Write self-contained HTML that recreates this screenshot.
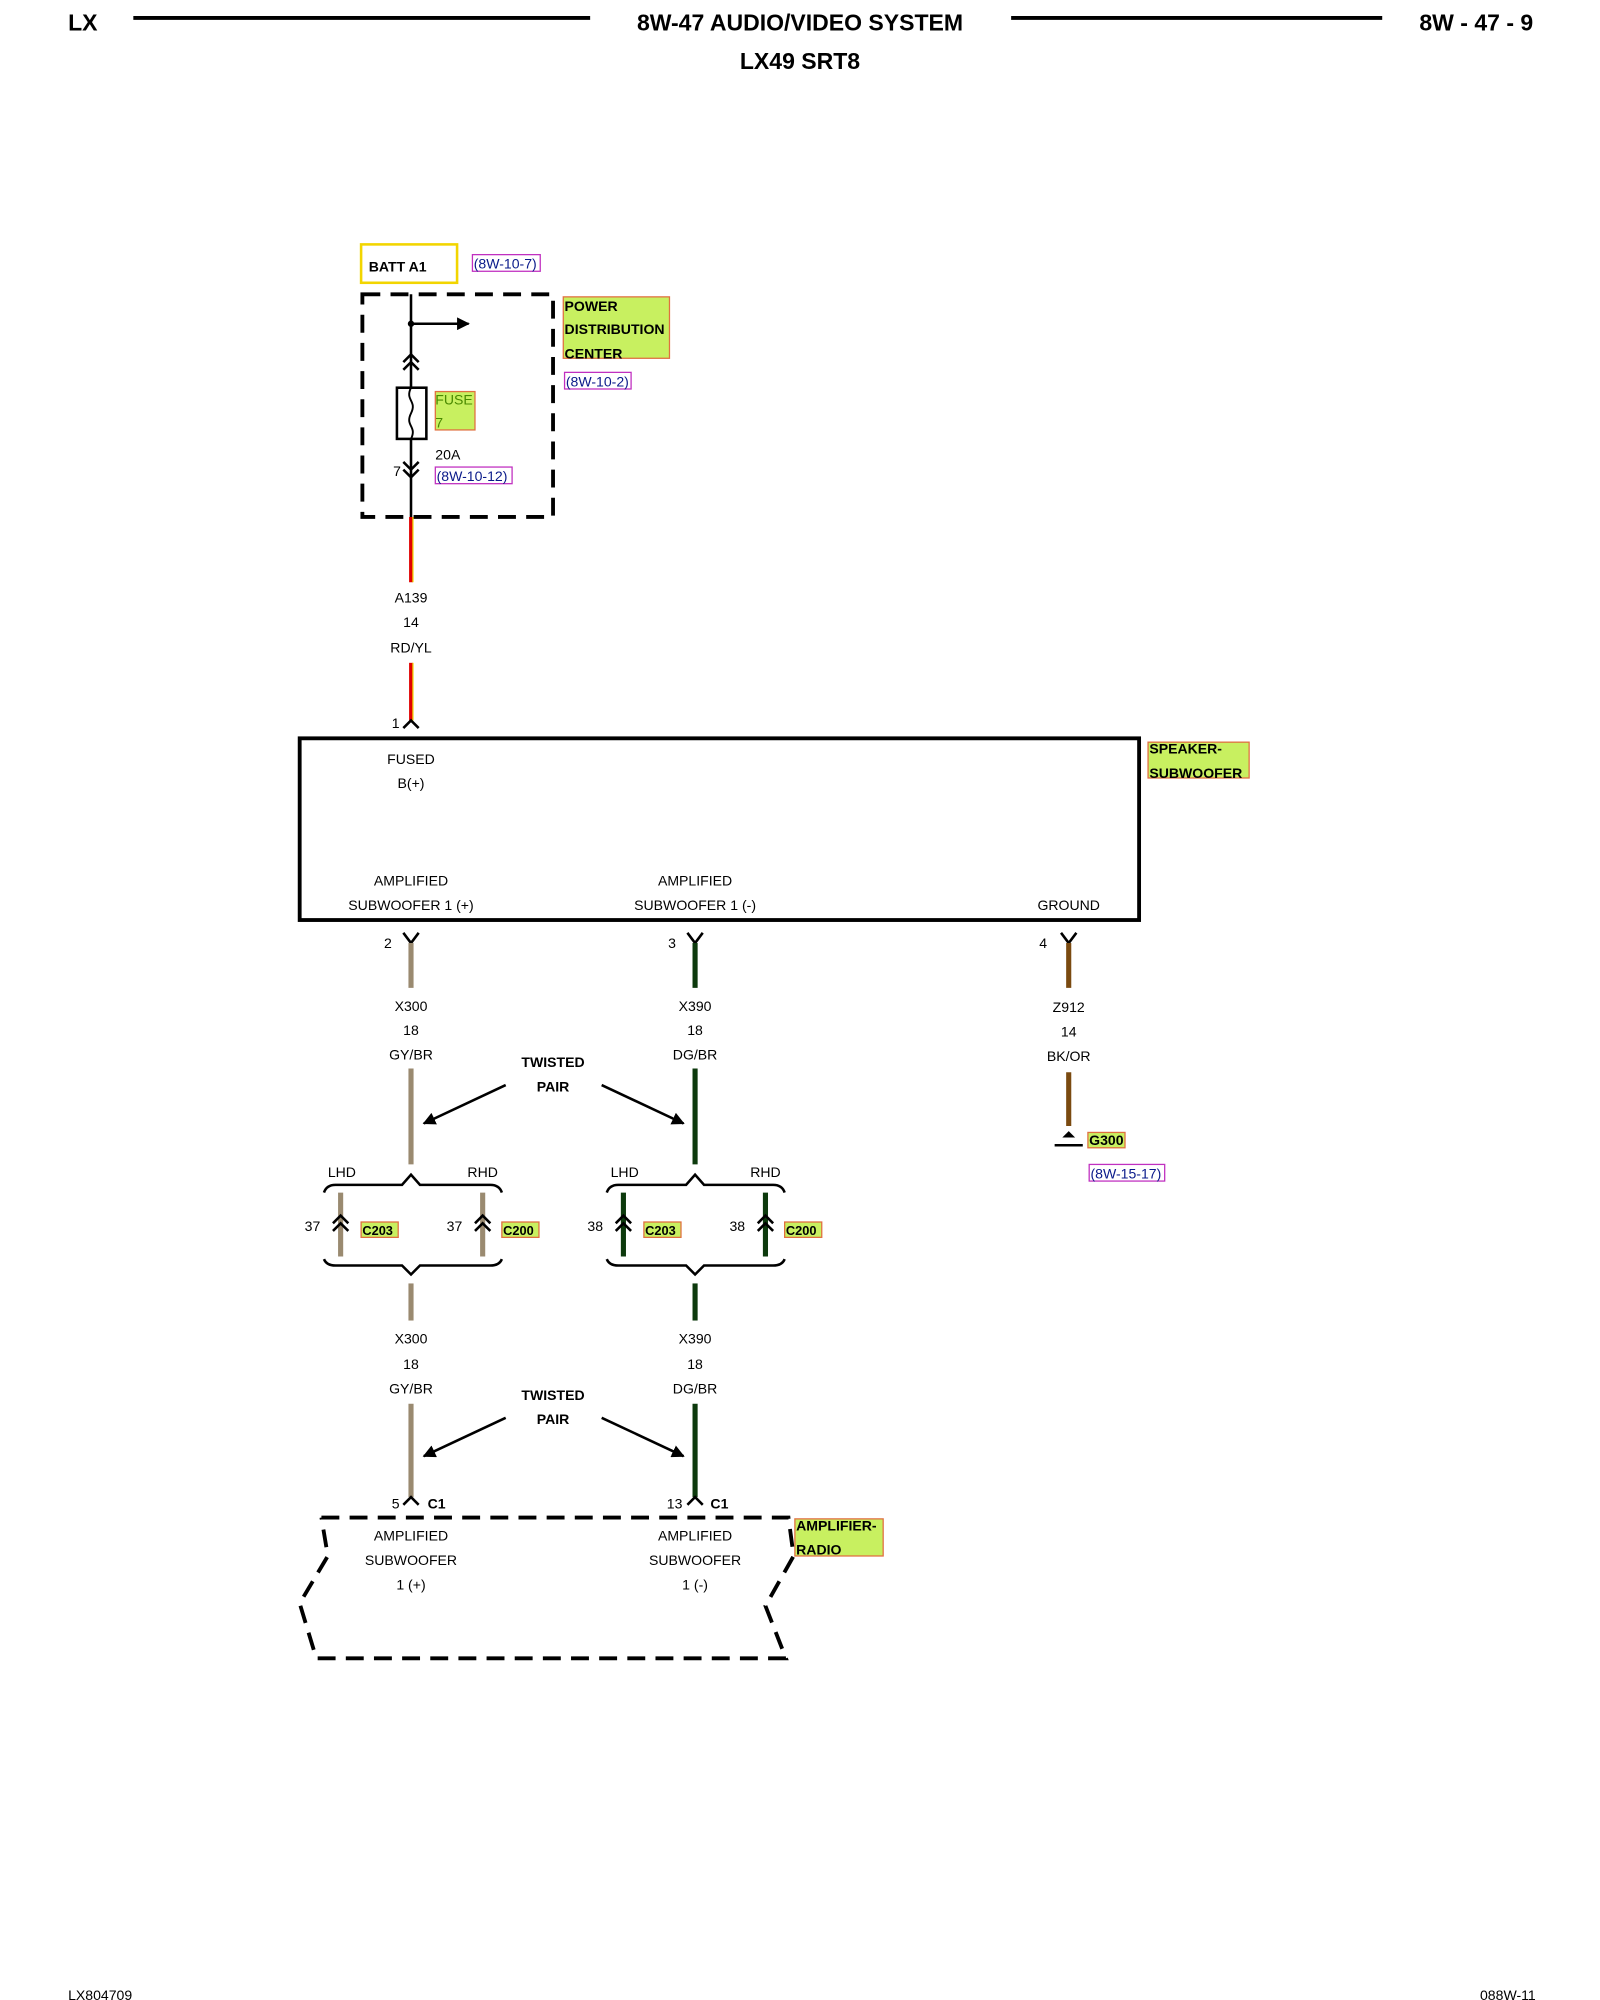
<!DOCTYPE html>
<html><head><style>
html,body{margin:0;padding:0;background:#fff;}
svg{display:block;}
text{font-family:"Liberation Sans",Arial,sans-serif;}
</style></head><body>
<svg width="1600" height="2000" viewBox="0 0 1250 1563" xmlns="http://www.w3.org/2000/svg">
<defs>
<marker id="ah" markerWidth="10" markerHeight="10" refX="9" refY="5" orient="auto" markerUnits="userSpaceOnUse" viewBox="0 0 10 10"><path d="M0,0 L10,5 L0,10 z" fill="#000"/></marker>
</defs>
<!-- header -->
<g font-weight="bold" font-size="18">
<text x="53" y="24">LX</text>
<text x="625" y="24" text-anchor="middle">8W-47 AUDIO/VIDEO SYSTEM</text>
<text x="1198" y="24" text-anchor="end">8W - 47 - 9</text>
<text x="625" y="54" text-anchor="middle">LX49 SRT8</text>
</g>
<line x1="104" y1="14" x2="461" y2="14" stroke="#000" stroke-width="3"/>
<line x1="790" y1="14" x2="1080" y2="14" stroke="#000" stroke-width="3"/>
<text x="53" y="1563" font-size="11">LX804709</text>
<text x="1200" y="1563" font-size="11" text-anchor="end">088W-11</text>

<!-- BATT -->
<rect x="282" y="191" width="75" height="30" fill="none" stroke="#f2d500" stroke-width="2"/>
<text x="288" y="212" font-size="11" font-weight="bold">BATT A1</text>
<g font-size="11" fill="#0a1a8a">
<rect x="369" y="199" width="53" height="13" fill="none" stroke="#c030c0"/>
<text x="370" y="210">(8W-10-7)</text>
<rect x="441" y="291" width="52" height="13" fill="none" stroke="#c030c0"/>
<text x="442" y="302">(8W-10-2)</text>
<rect x="340" y="365" width="60" height="13" fill="none" stroke="#c030c0"/>
<text x="341" y="376">(8W-10-12)</text>
<rect x="851" y="910" width="59" height="13" fill="none" stroke="#c030c0"/>
<text x="852" y="921">(8W-15-17)</text>
</g>
<rect x="283" y="230" width="149" height="174" fill="none" stroke="#000" stroke-width="3" stroke-dasharray="14 8"/>
<line x1="321" y1="230" x2="321" y2="404" stroke="#000" stroke-width="2"/>
<circle cx="321" cy="253" r="2.5"/>
<line x1="321" y1="253" x2="366" y2="253" stroke="#000" stroke-width="2" marker-end="url(#ah)"/>
<path d="M315,283 L321,277 L327,283 M315,289 L321,283 L327,289" fill="none" stroke="#000" stroke-width="2"/>
<rect x="310" y="303" width="23" height="40" fill="#fff" stroke="#000" stroke-width="2"/>
<path d="M321,303 C316,313 326,313 321,323 C316,333 326,333 321,343" fill="none" stroke="#000" stroke-width="1.5"/>
<path d="M315,361 L321,367 L327,361 M315,367 L321,373 L327,367" fill="none" stroke="#000" stroke-width="2"/>
<rect x="340" y="306" width="31" height="30" fill="#c8f060" stroke="#e07040"/>
<text x="340" y="316" font-size="11" fill="#4a8a00">FUSE</text>
<text x="340" y="334" font-size="11" fill="#4a8a00">7</text>
<text x="307" y="372" font-size="11">7</text>
<text x="340" y="359" font-size="11">20A</text>
<g font-size="11" font-weight="bold">
<rect x="440" y="232" width="83" height="48" fill="#c8f060" stroke="#e07040"/>
<text x="441" y="243">POWER</text><text x="441" y="261">DISTRIBUTION</text><text x="441" y="280">CENTER</text>
<rect x="897" y="580" width="79" height="28" fill="#c8f060" stroke="#e07040"/>
<text x="898" y="589">SPEAKER-</text><text x="898" y="608">SUBWOOFER</text>
<rect x="621" y="1187" width="69" height="29" fill="#c8f060" stroke="#e07040"/>
<text x="622" y="1196">AMPLIFIER-</text><text x="622" y="1215">RADIO</text>
<rect x="850" y="885" width="29" height="12" fill="#c8f060" stroke="#e07040"/>
<text x="851" y="895">G300</text>
</g>
<!-- red wire -->
<line x1="321" y1="404" x2="321" y2="455" stroke="#e00000" stroke-width="3"/>
<line x1="322.5" y1="404" x2="322.5" y2="455" stroke="#f0d000" stroke-width="1"/>
<line x1="321" y1="518" x2="321" y2="563" stroke="#e00000" stroke-width="3"/>
<line x1="322.5" y1="518" x2="322.5" y2="563" stroke="#f0d000" stroke-width="1"/>
<path d="M315,569 L321,563 L327,569" fill="none" stroke="#000" stroke-width="2"/>
<g font-size="11" text-anchor="middle">
<text x="321" y="471">A139</text><text x="321" y="490">14</text><text x="321" y="510">RD/YL</text>
<text x="309" y="569">1</text>
<text x="321" y="597">FUSED</text><text x="321" y="616">B(+)</text>
<text x="321" y="692">AMPLIFIED</text><text x="321" y="711">SUBWOOFER 1 (+)</text>
<text x="543" y="692">AMPLIFIED</text><text x="543" y="711">SUBWOOFER 1 (-)</text>
<text x="835" y="711">GROUND</text>
<text x="303" y="741">2</text><text x="525" y="741">3</text><text x="815" y="741">4</text>
<text x="321" y="790">X300</text><text x="321" y="809">18</text><text x="321" y="828">GY/BR</text>
<text x="543" y="790">X390</text><text x="543" y="809">18</text><text x="543" y="828">DG/BR</text>
<text x="835" y="791">Z912</text><text x="835" y="810">14</text><text x="835" y="829">BK/OR</text>
<text x="321" y="1050">X300</text><text x="321" y="1070">18</text><text x="321" y="1089">GY/BR</text>
<text x="543" y="1050">X390</text><text x="543" y="1070">18</text><text x="543" y="1089">DG/BR</text>
<text x="267" y="920">LHD</text><text x="377" y="920">RHD</text>
<text x="488" y="920">LHD</text><text x="598" y="920">RHD</text>
<text x="244" y="962">37</text><text x="355" y="962">37</text>
<text x="465" y="962">38</text><text x="576" y="962">38</text>
<text x="309" y="1179">5</text><text x="527" y="1179">13</text>
<text x="321" y="1204">AMPLIFIED</text><text x="321" y="1223">SUBWOOFER</text><text x="321" y="1242">1 (+)</text>
<text x="543" y="1204">AMPLIFIED</text><text x="543" y="1223">SUBWOOFER</text><text x="543" y="1242">1 (-)</text>
</g>
<g font-size="11" font-weight="bold">
<text x="432" y="834" text-anchor="middle">TWISTED</text><text x="432" y="853" text-anchor="middle">PAIR</text>
<text x="432" y="1094" text-anchor="middle">TWISTED</text><text x="432" y="1113" text-anchor="middle">PAIR</text>
<text x="334" y="1179">C1</text><text x="555" y="1179">C1</text>
</g>
<rect x="234" y="577" width="656" height="142" fill="none" stroke="#000" stroke-width="3"/>
<!-- Y connectors -->
<g fill="none" stroke="#000" stroke-width="2">
<path d="M315,729 L321,737 L327,729"/><path d="M537,729 L543,737 L549,729"/><path d="M829,729 L835,737 L841,729"/>
</g>
<!-- wires -->
<g stroke-width="4">
<line x1="321" y1="737" x2="321" y2="772" stroke="#9a8a70"/>
<line x1="321" y1="835" x2="321" y2="910" stroke="#9a8a70"/>
<line x1="321" y1="1003" x2="321" y2="1032" stroke="#9a8a70"/>
<line x1="321" y1="1097" x2="321" y2="1170" stroke="#9a8a70"/>
<line x1="266" y1="932" x2="266" y2="982" stroke="#9a8a70"/>
<line x1="377" y1="932" x2="377" y2="982" stroke="#9a8a70"/>
<line x1="543" y1="737" x2="543" y2="772" stroke="#0d3a0d"/>
<line x1="543" y1="835" x2="543" y2="910" stroke="#0d3a0d"/>
<line x1="543" y1="1003" x2="543" y2="1032" stroke="#0d3a0d"/>
<line x1="543" y1="1097" x2="543" y2="1170" stroke="#0d3a0d"/>
<line x1="487" y1="932" x2="487" y2="982" stroke="#0d3a0d"/>
<line x1="598" y1="932" x2="598" y2="982" stroke="#0d3a0d"/>
<line x1="835" y1="737" x2="835" y2="772" stroke="#7a4a10"/>
<line x1="835" y1="838" x2="835" y2="880" stroke="#7a4a10"/>
</g>
<!-- ground -->
<path d="M830,889 L835,884 L840,889 z" fill="#000"/>
<line x1="824" y1="895" x2="846" y2="895" stroke="#000" stroke-width="2"/>
<!-- twisted arrows -->
<g stroke="#000" stroke-width="2" marker-end="url(#ah)">
<line x1="395" y1="848" x2="331" y2="878"/><line x1="470" y1="848" x2="534" y2="878"/>
<line x1="395" y1="1108" x2="331" y2="1138"/><line x1="470" y1="1108" x2="534" y2="1138"/>
</g>
<!-- braces -->
<g fill="none" stroke="#000" stroke-width="2">
<path d="M253,932 Q255,926 262,926 L314,926 L321,918 L328,926 L383,926 Q390,926 392,932"/>
<path d="M253,984 Q255,989 262,989 L314,989 L321,996 L328,989 L383,989 Q390,989 392,984"/>
<path d="M474,932 Q476,926 483,926 L536,926 L543,918 L550,926 L604,926 Q611,926 613,932"/>
<path d="M474,984 Q476,989 483,989 L536,989 L543,996 L550,989 L604,989 Q611,989 613,984"/>
<path d="M260,956 L266,950 L272,956 M260,962 L266,956 L272,962"/>
<path d="M371,956 L377,950 L383,956 M371,962 L377,956 L383,962"/>
<path d="M481,956 L487,950 L493,956 M481,962 L487,956 L493,962"/>
<path d="M592,956 L598,950 L604,956 M592,962 L598,956 L604,962"/>
<path d="M315,1176 L321,1170 L327,1176"/><path d="M537,1176 L543,1170 L549,1176"/>
</g>
<g font-size="10" font-weight="bold">
<rect x="282" y="955" width="29" height="12" fill="#c8f060" stroke="#e07040"/><text x="283" y="965">C203</text>
<rect x="392" y="955" width="29" height="12" fill="#c8f060" stroke="#e07040"/><text x="393" y="965">C200</text>
<rect x="503" y="955" width="29" height="12" fill="#c8f060" stroke="#e07040"/><text x="504" y="965">C203</text>
<rect x="613" y="955" width="29" height="12" fill="#c8f060" stroke="#e07040"/><text x="614" y="965">C200</text>
</g>
<!-- amplifier dashed -->
<path d="M251,1186 L616,1186 L620,1216 L598,1255 L614,1296 L247,1296 L234,1253 L256,1216 L251,1186" fill="none" stroke="#000" stroke-width="3" stroke-dasharray="14 8"/>
</svg>
</body></html>
